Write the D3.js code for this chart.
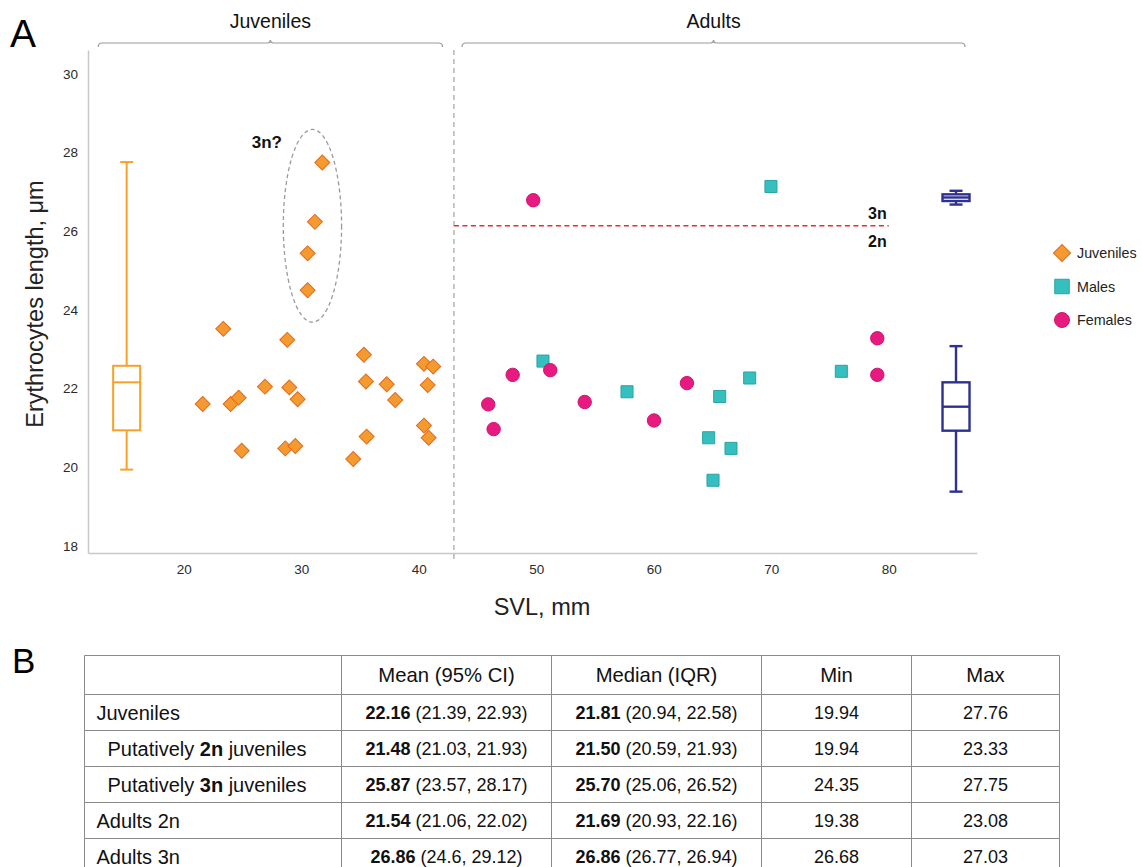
<!DOCTYPE html>
<html>
<head>
<meta charset="utf-8">
<script src="https://cdn.jsdelivr.net/npm/d3@7"></script>
<style>
body { margin: 0; background: #fff; }
svg { display: block; font-family: "Liberation Sans", Arial, sans-serif; }
</style>
</head>
<body>
<svg id="chart" width="1142" height="867"></svg>
<script>
// Panel A: SVL (mm) against erythrocyte length (µm)
var juvenileSvl = [31.8, 31.17, 30.55, 30.55, 23.37, 28.82, 35.34, 35.51, 37.28, 38.0, 35.57, 34.43, 40.45,
  41.24, 40.77, 40.45, 40.85, 21.62, 24.0, 24.68, 26.92, 28.99, 29.7, 24.94, 28.65, 29.5];
var juvenileLength = [27.75, 26.24, 25.44, 24.5, 23.52, 23.24, 22.86, 22.18, 22.11, 21.71, 20.78, 20.21, 22.63,
  22.56, 22.09, 21.06, 20.75, 21.61, 21.61, 21.77, 22.05, 22.03, 21.73, 20.42, 20.48, 20.54];
var maleSvl = [69.98, 50.58, 57.73, 65.62, 68.17, 75.97, 64.68, 66.58, 65.05];
var maleLength = [27.14, 22.7, 21.92, 21.8, 22.27, 22.44, 20.75, 20.48, 19.67];
var femaleSvl = [49.75, 45.92, 46.38, 48.0, 51.2, 54.13, 60.03, 62.83, 79.03, 79.03];
var femaleLength = [26.79, 21.6, 20.97, 22.35, 22.47, 21.66, 21.19, 22.14, 23.28, 22.35];

// box summaries (position on the SVL axis, whiskers, box, centre line)
var boxSvl = [15.15, 85.73, 85.73];
var boxMin = [19.94, 19.38, 26.68];
var boxQ1 = [20.94, 20.93, 26.77];
var boxMid = [22.16, 21.54, 26.86];
var boxQ3 = [22.58, 22.16, 26.94];
var boxMax = [27.76, 23.08, 27.03];
var boxColors = ['#f7a128', '#2e3192', '#2e3192'];

var xTicks = [20, 30, 40, 50, 60, 70, 80];
var yTicks = [18, 20, 22, 24, 26, 28, 30];
var ageSplit = 43;
var ploidyCut = 26.14;
var ploidyCutEnd = 80;

var groupLabels = ['Juveniles', 'Adults'];
var groupStart = [12.73, 43.69];
var groupEnd = [42.03, 86.5];

// Panel B table
var tableHeader = ['', 'Mean (95% CI)', 'Median (IQR)', 'Min', 'Max'];
var rowLabelPre = ['Juveniles', 'Putatively ', 'Putatively ', 'Adults 2n', 'Adults 3n'];
var rowLabelBold = ['', '2n', '3n', '', ''];
var rowLabelPost = ['', ' juveniles', ' juveniles', '', ''];
var rowIndent = [0, 1, 1, 0, 0];
var meanValues = ['22.16', '21.48', '25.87', '21.54', '26.86'];
var meanCI = ['(21.39, 22.93)', '(21.03, 21.93)', '(23.57, 28.17)', '(21.06, 22.02)', '(24.6, 29.12)'];
var medianValues = ['21.81', '21.50', '25.70', '21.69', '26.86'];
var medianIQR = ['(20.94, 22.58)', '(20.59, 21.93)', '(25.06, 26.52)', '(20.93, 22.16)', '(26.77, 26.94)'];
var minValues = ['19.94', '19.94', '24.35', '19.38', '26.68'];
var maxValues = ['27.76', '23.33', '27.75', '23.08', '27.03'];

var svg = d3.select('#chart');

var x = d3.scaleLinear().domain([11.86, 87.49]).range([88, 976.7]);
var y = d3.scaleLinear().domain([17.82, 30.61]).range([553, 50]);

// panel letters
svg.append('text').attr('x', 10).attr('y', 47).attr('font-size', 39).text('A');
svg.append('text').attr('x', 12).attr('y', 673).attr('font-size', 35).text('B');

// axes
var xAxis = svg.append('g')
  .attr('transform', 'translate(0,553)')
  .call(d3.axisBottom(x).tickValues(xTicks).tickSize(0).tickPadding(11));
var yAxis = svg.append('g')
  .attr('transform', 'translate(88,0)')
  .call(d3.axisLeft(y).tickValues(yTicks).tickSize(0).tickPadding(10));
[xAxis, yAxis].forEach(function(ax) {
  ax.select('.domain').attr('stroke', '#c8c8c8').attr('stroke-width', 1.5);
  ax.selectAll('text').attr('font-size', 13.5).attr('fill', '#2a2a2a')
    .attr('font-family', '"Liberation Sans", Arial, sans-serif');
});

svg.append('text')
  .attr('transform', 'translate(43,304) rotate(-90)')
  .attr('text-anchor', 'middle')
  .attr('font-size', 23.5)
  .attr('fill', '#222')
  .text('Erythrocytes length, μm');
svg.append('text')
  .attr('x', 542).attr('y', 615)
  .attr('text-anchor', 'middle')
  .attr('font-size', 23.5)
  .attr('fill', '#222')
  .text('SVL, mm');

// group brackets on top
var bracketY = 43;
groupLabels.forEach(function(label, i) {
  var x1 = x(groupStart[i]);
  var x2 = x(groupEnd[i]);
  var cx = (x1 + x2) / 2;
  var p = d3.path();
  p.moveTo(x1, bracketY + 4);
  p.quadraticCurveTo(x1, bracketY, x1 + 4, bracketY);
  p.lineTo(cx - 3, bracketY);
  p.quadraticCurveTo(cx, bracketY, cx, bracketY - 3);
  p.quadraticCurveTo(cx, bracketY, cx + 3, bracketY);
  p.lineTo(x2 - 4, bracketY);
  p.quadraticCurveTo(x2, bracketY, x2, bracketY + 4);
  svg.append('path').attr('d', p.toString())
    .attr('fill', 'none').attr('stroke', '#9a9a9a').attr('stroke-width', 1.2);
  svg.append('text')
    .attr('x', cx).attr('y', 28)
    .attr('text-anchor', 'middle')
    .attr('font-size', 19.5)
    .attr('fill', '#111')
    .text(label);
});

// juvenile / adult divider
svg.append('line')
  .attr('x1', x(ageSplit)).attr('x2', x(ageSplit))
  .attr('y1', 50).attr('y2', 560)
  .attr('stroke', '#aaa').attr('stroke-width', 1.3)
  .attr('stroke-dasharray', '5,4');

// 2n / 3n threshold
svg.append('line')
  .attr('x1', x(ageSplit)).attr('x2', x(ploidyCutEnd))
  .attr('y1', y(ploidyCut)).attr('y2', y(ploidyCut))
  .attr('stroke', '#f02b2b').attr('stroke-width', 1.6)
  .attr('stroke-dasharray', '5,3.5');
svg.append('text')
  .attr('x', x(ploidyCutEnd) - 2).attr('y', y(ploidyCut) - 7)
  .attr('text-anchor', 'end').attr('font-size', 16).attr('font-weight', 'bold')
  .attr('fill', '#111').text('3n');
svg.append('text')
  .attr('x', x(ploidyCutEnd) - 2).attr('y', y(ploidyCut) + 21)
  .attr('text-anchor', 'end').attr('font-size', 16).attr('font-weight', 'bold')
  .attr('fill', '#111').text('2n');

// "3n?" ellipse around the large juvenile cells
var ellCx = 30.96, ellCy = 26.14, ellRx = 2.48, ellRy = 2.45;
svg.append('ellipse')
  .attr('cx', x(ellCx)).attr('cy', y(ellCy))
  .attr('rx', x(ellCx + ellRx) - x(ellCx))
  .attr('ry', y(ellCy - ellRy) - y(ellCy))
  .attr('fill', 'none').attr('stroke', '#9a9a9a').attr('stroke-width', 1.3)
  .attr('stroke-dasharray', '4,3');
svg.append('text')
  .attr('x', 282).attr('y', 148)
  .attr('text-anchor', 'end').attr('font-size', 17).attr('font-weight', 'bold')
  .attr('fill', '#111').text('3n?');

// box plots
var boxWidth = 27, capWidth = 13;
boxSvl.forEach(function(v, i) {
  var g = svg.append('g')
    .attr('fill', 'none')
    .attr('stroke', boxColors[i])
    .attr('stroke-width', i === 0 ? 2 : 2.4);
  var cx = x(v);
  g.append('line').attr('x1', cx).attr('x2', cx).attr('y1', y(boxMax[i])).attr('y2', y(boxQ3[i]));
  g.append('line').attr('x1', cx).attr('x2', cx).attr('y1', y(boxQ1[i])).attr('y2', y(boxMin[i]));
  g.append('line').attr('x1', cx - capWidth / 2).attr('x2', cx + capWidth / 2)
    .attr('y1', y(boxMax[i])).attr('y2', y(boxMax[i]));
  g.append('line').attr('x1', cx - capWidth / 2).attr('x2', cx + capWidth / 2)
    .attr('y1', y(boxMin[i])).attr('y2', y(boxMin[i]));
  g.append('rect').attr('x', cx - boxWidth / 2).attr('width', boxWidth)
    .attr('y', y(boxQ3[i])).attr('height', y(boxQ1[i]) - y(boxQ3[i]))
    .attr('fill', '#fff');
  g.append('line').attr('x1', cx - boxWidth / 2).attr('x2', cx + boxWidth / 2)
    .attr('y1', y(boxMid[i])).attr('y2', y(boxMid[i]));
});

// points
var diamond = d3.symbol().type(d3.symbolSquare).size(112);
var square = d3.symbol().type(d3.symbolSquare).size(145);

svg.append('g').selectAll('path')
  .data(d3.zip(juvenileSvl, juvenileLength))
  .enter().append('path')
  .attr('d', diamond)
  .attr('transform', function(d) { return 'translate(' + x(d[0]) + ',' + y(d[1]) + ') rotate(45)'; })
  .attr('fill', '#f59a2f').attr('stroke', '#e26a1f').attr('stroke-width', 1);

svg.append('g').selectAll('path')
  .data(d3.zip(maleSvl, maleLength))
  .enter().append('path')
  .attr('d', square)
  .attr('transform', function(d) { return 'translate(' + x(d[0]) + ',' + y(d[1]) + ')'; })
  .attr('fill', '#35bfbf').attr('stroke', '#2aa3a3').attr('stroke-width', 1);

svg.append('g').selectAll('circle')
  .data(d3.zip(femaleSvl, femaleLength))
  .enter().append('circle')
  .attr('cx', function(d) { return x(d[0]); })
  .attr('cy', function(d) { return y(d[1]); })
  .attr('r', 6.7)
  .attr('fill', '#e8197f').attr('stroke', '#cc1570').attr('stroke-width', 1);

// legend
var legendNames = ['Juveniles', 'Males', 'Females'];
var legend = svg.append('g').attr('transform', 'translate(1062,253)');
legend.append('path').attr('d', d3.symbol().type(d3.symbolSquare).size(145))
  .attr('transform', 'rotate(45)')
  .attr('fill', '#f59a2f').attr('stroke', '#e26a1f');
legend.append('path').attr('d', d3.symbol().type(d3.symbolSquare).size(210))
  .attr('transform', 'translate(0,33.5)')
  .attr('fill', '#35bfbf').attr('stroke', '#2aa3a3');
legend.append('circle').attr('cy', 67).attr('r', 7.5)
  .attr('fill', '#e8197f').attr('stroke', '#cc1570');
legend.selectAll('text').data(legendNames).enter().append('text')
  .attr('x', 15).attr('y', function(d, i) { return i * 33.5 + 5; })
  .attr('font-size', 14.3).attr('fill', '#222')
  .text(function(d) { return d; });

// table B
var colEdges = [84.5, 341.5, 551.5, 761.5, 911.5, 1059.5];
var headTop = 655.5, headH = 39, rowH = 36;
var rowEdges = [headTop, headTop + headH];
rowLabelPre.forEach(function() { rowEdges.push(rowEdges[rowEdges.length - 1] + rowH); });

var table = svg.append('g').attr('fill', '#111');
rowEdges.forEach(function(ry) {
  table.append('line').attr('x1', colEdges[0]).attr('x2', colEdges[colEdges.length - 1])
    .attr('y1', ry).attr('y2', ry).attr('stroke', '#8a8a8a');
});
colEdges.forEach(function(cx) {
  table.append('line').attr('x1', cx).attr('x2', cx)
    .attr('y1', rowEdges[0]).attr('y2', rowEdges[rowEdges.length - 1]).attr('stroke', '#8a8a8a');
});

function colCenter(c) { return (colEdges[c] + colEdges[c + 1]) / 2; }

tableHeader.forEach(function(h, c) {
  table.append('text').attr('x', colCenter(c)).attr('y', headTop + headH / 2 + 7)
    .attr('text-anchor', 'middle').attr('font-size', 20.3).text(h);
});

function cell(c, r, bold, rest) {
  var t = table.append('text')
    .attr('x', colCenter(c)).attr('y', rowEdges[r + 1] + rowH / 2 + 6.5)
    .attr('text-anchor', 'middle').attr('font-size', 18).style('white-space', 'pre');
  if (bold) t.append('tspan').attr('font-weight', 'bold').text(bold + ' ');
  t.append('tspan').text(rest);
}

rowLabelPre.forEach(function(pre, r) {
  var t = table.append('text')
    .attr('x', colEdges[0] + 12 + rowIndent[r] * 11)
    .attr('y', rowEdges[r + 1] + rowH / 2 + 7)
    .attr('font-size', 20).style('white-space', 'pre');
  t.append('tspan').text(pre);
  if (rowLabelBold[r]) t.append('tspan').attr('font-weight', 'bold').text(rowLabelBold[r]);
  if (rowLabelPost[r]) t.append('tspan').text(rowLabelPost[r]);
  cell(1, r, meanValues[r], meanCI[r]);
  cell(2, r, medianValues[r], medianIQR[r]);
  cell(3, r, '', minValues[r]);
  cell(4, r, '', maxValues[r]);
});
</script>
</body>
</html>
